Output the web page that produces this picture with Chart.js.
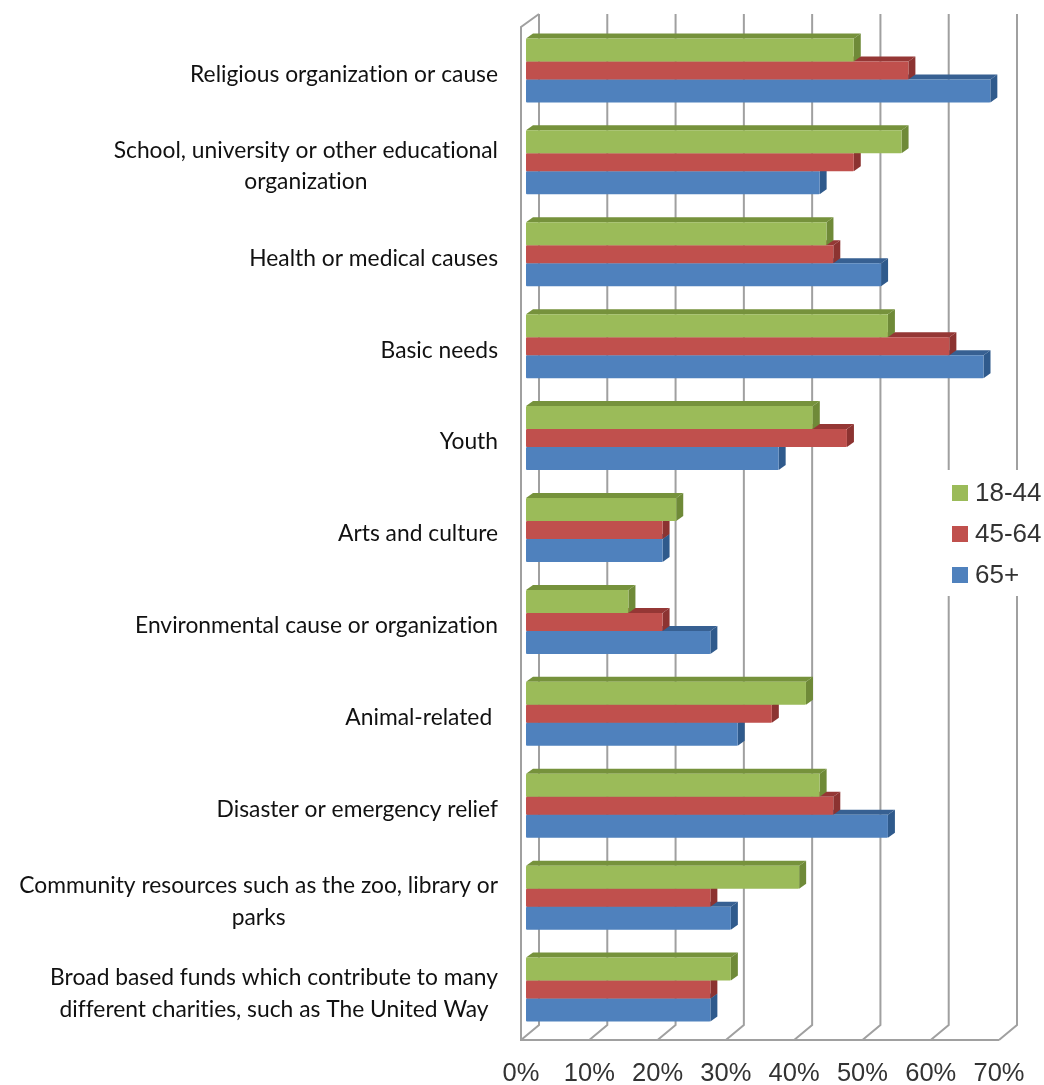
<!DOCTYPE html>
<html><head><meta charset="utf-8">
<script src="https://cdn.jsdelivr.net/npm/chart.js@4"></script>
<style>html,body{margin:0;padding:0;background:#fff}canvas{display:block}</style>
</head><body><canvas id="c" width="1044" height="1085"></canvas>
<script>
const categories = [
  ["Religious organization or cause"],
  ["School, university or other educational","organization"],
  ["Health or medical causes"],
  ["Basic needs"],
  ["Youth"],
  ["Arts and culture"],
  ["Environmental cause or organization"],
  ["Animal-related "],
  ["Disaster or emergency relief"],
  ["Community resources such as the zoo, library or","parks"],
  ["Broad based funds which contribute to many","different charities, such as The United Way"]
];
const seriesNames = ["18-44","45-64","65+"];
const young = [48,55,44,53,42,22,15,41,43,40,30];
const middle = [56,48,45,62,47,20,20,36,45,27,27];
const senior = [68,43,52,67,37,20,27,31,53,30,27];
const tickStep = 10, axisMax = 70;
const front = ["#9bbb59","#c0504d","#4f81bd"];
const topFace = ["#76923c","#953735","#376092"];
const sideFace = ["#6f8a38","#8c3331","#2f5a8c"];
const DX=7, DY=5;
const labelFont = '22.8px Lato';
const numFont = '26px "Liberation Sans"';

const deco = {
  id:'deco',
  beforeDraw(chart){
    const c=chart.ctx, xs=chart.scales.x, a=chart.chartArea;
    const backTop=a.top-10.5, backBot=a.bottom-10.5, fTop=a.top+2.5, fBot=a.bottom+4.5;
    const bx=v=>xs.getPixelForValue(v)+13, fx=v=>xs.getPixelForValue(v)-5;
    c.save();
    c.lineWidth=2; c.strokeStyle='#a0a0a0';
    for(let v=0;v<=axisMax;v+=tickStep){
      c.beginPath();
      c.moveTo(bx(v),backTop); c.lineTo(bx(v),backBot); c.lineTo(fx(v),fBot);
      c.stroke();
    }
    c.beginPath();
    c.moveTo(bx(0),backTop); c.lineTo(fx(0),fTop); c.lineTo(fx(0),fBot); c.lineTo(fx(axisMax),fBot);
    c.stroke();
    c.restore();
  },
  beforeDatasetDraw(chart,args){
    const c=chart.ctx,i=args.index;
    c.save();
    chart.getDatasetMeta(i).data.forEach(b=>{
      const t=b.y-b.height/2, u=b.y+b.height/2;
      c.fillStyle=topFace[i];
      c.beginPath();c.moveTo(b.base,t);c.lineTo(b.base+DX,t-DY);c.lineTo(b.x+DX,t-DY);c.lineTo(b.x,t);c.closePath();c.fill();
      c.fillStyle=sideFace[i];
      c.beginPath();c.moveTo(b.x,t);c.lineTo(b.x+DX,t-DY);c.lineTo(b.x+DX,u-DY);c.lineTo(b.x,u);c.closePath();c.fill();
    });
    c.restore();
  },
  afterDraw(chart){
    const c=chart.ctx, ys=chart.scales.y;
    c.save();
    // category labels: block right-aligned, lines centred within the block
    c.font=labelFont; c.textRendering='optimizeSpeed'; c.fillStyle='#111'; c.textAlign='center'; c.textBaseline='middle';
    const right=498, lh=31.5;
    categories.forEach((lines,i)=>{
      const w=Math.max(...lines.map(l=>c.measureText(l).width));
      const cy=ys.getPixelForValue(i)+4;
      lines.forEach((l,k)=>c.fillText(l,right-w/2,cy+(k-(lines.length-1)/2)*lh));
    });
    // legend
    c.textRendering='auto';
    c.fillStyle='#fff'; c.fillRect(946,470,98,126);
    c.font=numFont; c.textAlign='left';
    chart.data.datasets.forEach((d,i)=>{
      const y=493+41*i;
      c.fillStyle=front[i]; c.fillRect(952,y-8,16,16);
      c.fillStyle='#333'; c.fillText(d.label,975,y+1);
    });
    c.restore();
  }
};
const ds=(label,data,i,bp)=>({label,data,backgroundColor:front[i],barPercentage:bp,categoryPercentage:0.669,borderRadius:1,borderSkipped:false});
new Chart(document.getElementById('c'),{
  type:'bar',
  data:{labels:categories,datasets:[ds(seriesNames[0],young,0,1.122),ds(seriesNames[1],middle,1,0.878),ds(seriesNames[2],senior,2,1.122)]},
  plugins:[deco],
  options:{
    indexAxis:'y',responsive:false,animation:false,
    layout:{padding:{left:526,right:40,top:24.5,bottom:0}},
    plugins:{legend:{display:false},tooltip:{enabled:false}},
    scales:{
      y:{display:false,offset:true,grid:{display:false}},
      x:{min:0,max:axisMax,
        grid:{display:false,drawTicks:false},border:{display:false},
        afterFit(s){s.height=49.5;s.paddingLeft=0;s.paddingRight=0;},
        ticks:{stepSize:tickStep,padding:23.5,labelOffset:-5,maxRotation:0,autoSkip:false,color:'#333',
          font:{family:'"Liberation Sans"',size:25.5},
          callback:v=>v+'%'}
      }
    }
  }
});
</script></body></html>
